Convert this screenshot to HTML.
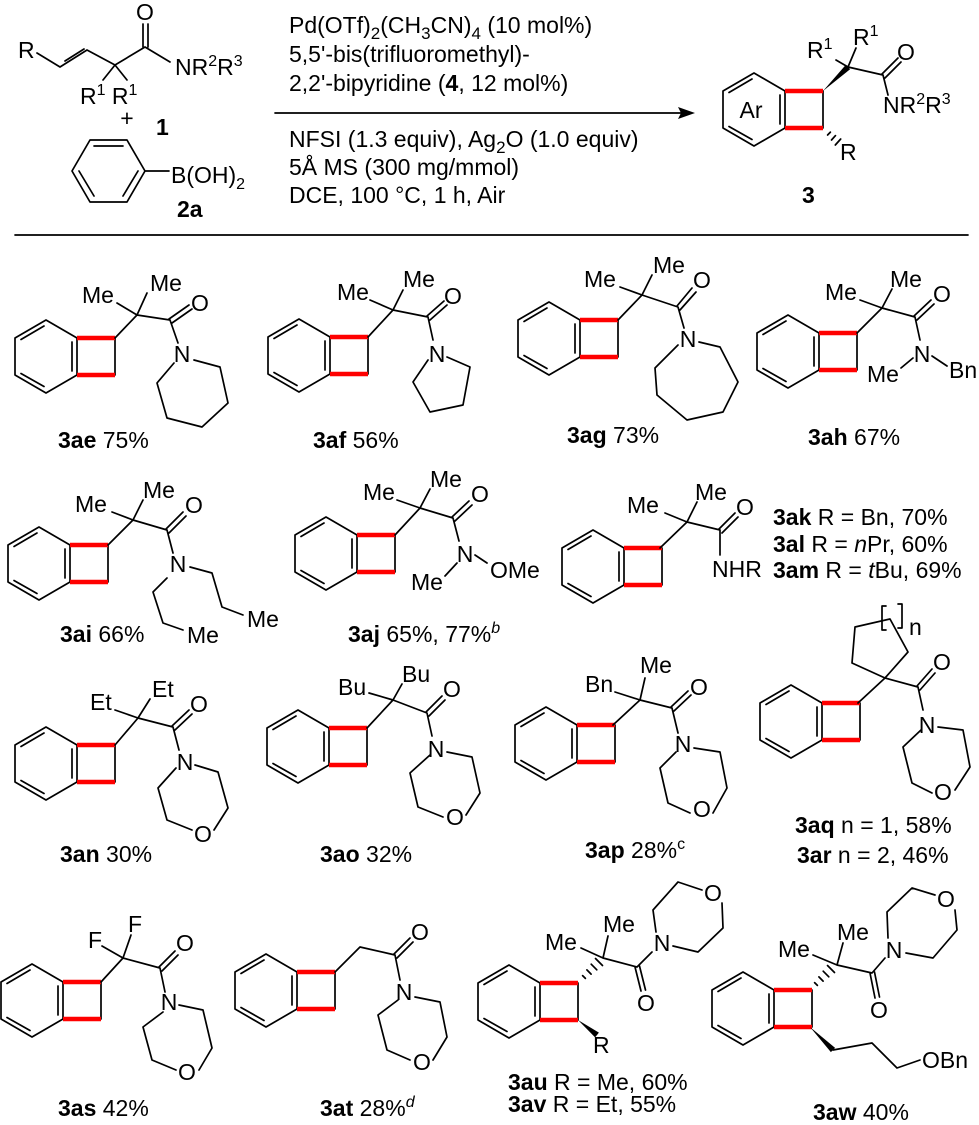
<!DOCTYPE html>
<html><head><meta charset="utf-8"><style>
html,body{margin:0;padding:0;background:#fff;}
svg{display:block;}
text{font-family:"Liberation Sans",Arial,sans-serif;font-size:23px;fill:#000;}
.m{text-anchor:middle;}
.b{font-weight:bold;}
.k{fill:none;stroke:#000;stroke-width:1.7;stroke-linejoin:round;stroke-linecap:round;}
.r{fill:none;stroke:#f00;stroke-width:4.5;}
</style></head><body>
<svg width="979" height="1125" viewBox="0 0 979 1125" xmlns="http://www.w3.org/2000/svg">
<defs>
<g id="bcb">
<path class="k" d="M0 0 L31 -18 L62 0 L62 37 L31 55 L0 37 Z M57 4 L57 33 M6 1.5 L29 -12 M6 35.5 L29 48.5 M100 0 L100 37"/>
<path class="r" d="M62 0 L100 0 M62 37 L100 37"/>
</g>
</defs>

<!-- Header: compound 1 -->
<text x="18" y="58">R</text>
<path class="k" d="M37 53 L60 67 L87 50 L115 65 L145 47 L170 62 M65 61 L84 49 M115 65 L103 80 M115 65 L127 80 M143 47 L143 24 M148 47 L148 24"/>
<text class="m" x="145" y="20">O</text>
<text x="175" y="75">NR<tspan font-size="16" dy="-9">2</tspan><tspan dy="9">R</tspan><tspan font-size="16" dy="-9">3</tspan></text>
<text x="80" y="104">R<tspan font-size="16" dy="-9">1</tspan><tspan dy="9"> R</tspan><tspan font-size="16" dy="-9">1</tspan></text>
<text class="m" x="127" y="126" font-size="20">+</text>
<text class="b" x="156" y="135">1</text>
<path class="k" d="M90 140 L127 140 L145 171 L127 202 L90 202 L72 171 Z M94 146 L123 146 M138 171 L123 196 M79 171 L94 196 M145 171 L169 171"/>
<text x="171" y="183">B(OH)<tspan font-size="16" dy="6">2</tspan></text>
<text class="b" x="177" y="217">2a</text>

<!-- Reagents -->
<g font-size="24">
<text x="289" y="33" font-size="24">Pd(OTf)<tspan font-size="17" dy="6">2</tspan><tspan dy="-6">(CH</tspan><tspan font-size="17" dy="6">3</tspan><tspan dy="-6">CN)</tspan><tspan font-size="17" dy="6">4</tspan><tspan dy="-6"> (10 mol%)</tspan></text>
<text x="289" y="62" font-size="24">5,5'-bis(trifluoromethyl)-</text>
<text x="289" y="91" font-size="24">2,2'-bipyridine (<tspan font-weight="bold">4</tspan>, 12 mol%)</text>
<text x="289" y="147" font-size="24">NFSI (1.3 equiv), Ag<tspan font-size="17" dy="6">2</tspan><tspan dy="-6">O (1.0 equiv)</tspan></text>
<text x="289" y="175" font-size="24">5Å MS (300 mg/mmol)</text>
<text x="289" y="203" font-size="24">DCE, 100 °C, 1 h, Air</text>
</g>
<path class="k" d="M275 113 L682 113"/>
<path d="M695 113 L678 107 L681 113 L678 119 Z" fill="#000"/>
<path class="k" d="M15 235 L968 235"/>

<!-- Product 3 -->
<use href="#bcb" x="723" y="91"/>
<text class="m" x="751" y="118">Ar</text>
<polygon points="823,91 845.9,64.8 850.1,69.2" fill="#000"/>
<path class="k" d="M848 67 L836 60 M848 67 L856 48 M848 67 L883 75 L888 95 M882 74 L898 58 M885 78 L901 62"/>
<path class="k" d="M827.6 135 L830.4 132.1 M831.5 140 L835.5 135.6 M835.3 145 L840.7 139"/>
<text x="807" y="58">R<tspan font-size="16" dy="-9">1</tspan></text>
<text x="853" y="45">R<tspan font-size="16" dy="-9">1</tspan></text>
<text class="m" x="906" y="60">O</text>
<text x="883" y="113">NR<tspan font-size="16" dy="-9">2</tspan><tspan dy="9">R</tspan><tspan font-size="16" dy="-9">3</tspan></text>
<text x="840" y="160">R</text>
<text class="b" x="802" y="203">3</text>

<!-- 3ae -->
<use href="#bcb" x="15" y="338"/>
<path class="k" d="M115 338 L137 315 L117 303 M137 315 L147 293 M137 315 L170 320 L178 343 M169 319 L189 305 M172 323 L192 309 M174 363 L157 383 L167 418 L202 427 L228 403 L220 367 L194 360"/>
<text x="82" y="303">Me</text><text x="150" y="291">Me</text>
<text class="m" x="200" y="311">O</text><text class="m" x="182" y="362">N</text>
<text x="58" y="448"><tspan class="b">3ae</tspan> 75%</text>

<!-- 3af -->
<use href="#bcb" x="268" y="337"/>
<path class="k" d="M368 337 L393 310 L370 300 M393 310 L403 290 M393 310 L428 317 L433 340 M427 316 L444 301 M430 320 L447 305 M428 360 L413 382 L430 412 L463 405 L470 367 L447 357"/>
<text x="337" y="300">Me</text><text x="403" y="287">Me</text>
<text class="m" x="453" y="304">O</text><text class="m" x="437" y="362">N</text>
<text x="313" y="448"><tspan class="b">3af</tspan> 56%</text>

<!-- 3ag -->
<use href="#bcb" x="518" y="320"/>
<path class="k" d="M618 320 L642 295 L620 287 M642 295 L652 275 M642 295 L678 307 L684 328 M677 306 L692 288 M680 310 L696 292 M678 345 L655 368 L657 395 L687 420 L723 412 L738 382 L720 347 L699 342"/>
<text x="584" y="287">Me</text><text x="653" y="273">Me</text>
<text class="m" x="702" y="288">O</text><text class="m" x="688" y="347">N</text>
<text x="567" y="443"><tspan class="b">3ag</tspan> 73%</text>

<!-- 3ah -->
<use href="#bcb" x="757" y="333"/>
<path class="k" d="M857 333 L882 308 L860 300 M882 308 L892 289 M882 308 L915 317 L920 340 M914 316 L931 300 M917 320 L934 304 M913 358 L901 368 M932 356 L947 366"/>
<text x="825" y="300">Me</text><text x="890" y="287">Me</text>
<text class="m" x="942" y="302">O</text><text class="m" x="922" y="362">N</text>
<text x="867" y="382">Me</text><text x="949" y="378">Bn</text>
<text x="808" y="445"><tspan class="b">3ah</tspan> 67%</text>

<!-- 3ai -->
<use href="#bcb" x="8" y="545"/>
<path class="k" d="M108 545 L133 520 L112 512 M133 520 L143 500 M133 520 L167 530 L173 553 M166 529 L183 512 M169 533 L186 516 M190 567 L212 573 L222 607 L243 615 M167 578 L153 592 L163 623 L183 630"/>
<text x="75" y="512">Me</text><text x="143" y="498">Me</text>
<text class="m" x="194" y="513">O</text><text class="m" x="178" y="572">N</text>
<text x="247" y="627">Me</text><text x="187" y="643">Me</text>
<text x="60" y="642"><tspan class="b">3ai</tspan> 66%</text>

<!-- 3aj -->
<use href="#bcb" x="295" y="535"/>
<path class="k" d="M395 535 L420 508 L397 500 M420 508 L430 489 M420 508 L453 518 L459 541 M452 517 L469 501 M455 521 L472 505 M457 563 L445 576 M475 555 L487 563"/>
<text x="363" y="500">Me</text><text x="430" y="487">Me</text>
<text class="m" x="480" y="502">O</text><text class="m" x="465" y="562">N</text>
<text x="411" y="590">Me</text><text x="490" y="578">OMe</text>
<text x="348" y="642"><tspan class="b">3aj</tspan> 65%, 77%<tspan font-size="16" font-style="italic" dy="-9">b</tspan></text>

<!-- 3ak -->
<use href="#bcb" x="562" y="548"/>
<path class="k" d="M660 548 L687 522 L665 513 M687 522 L697 502 M687 522 L720 530 L720 555 M719 529 L735 513 M722 533 L738 517"/>
<text x="627" y="513">Me</text><text x="695" y="500">Me</text>
<text class="m" x="745" y="515">O</text><text x="712" y="577">NHR</text>
<text x="773" y="525"><tspan class="b">3ak</tspan> R = Bn, 70%</text>
<text x="773" y="552"><tspan class="b">3al</tspan> R = <tspan font-style="italic">n</tspan>Pr, 60%</text>
<text x="773" y="578"><tspan class="b">3am</tspan> R = <tspan font-style="italic">t</tspan>Bu, 69%</text>

<!-- 3an -->
<use href="#bcb" x="15" y="745"/>
<path class="k" d="M115 745 L138 718 L115 710 M138 718 L150 699 M138 718 L173 727 L179 750 M172 726 L189 710 M175 730 L192 714 M176 768 L158 788 L167 820 L192 830 M214 830 L228 808 L218 772 L195 765"/>
<text x="90" y="710">Et</text><text x="152" y="697">Et</text>
<text class="m" x="199" y="712">O</text><text class="m" x="185" y="770">N</text><text class="m" x="203" y="842">O</text>
<text x="60" y="862"><tspan class="b">3an</tspan> 30%</text>

<!-- 3ao -->
<use href="#bcb" x="267" y="728"/>
<path class="k" d="M367 728 L393 700 L369 693 M393 700 L402 684 M393 700 L427 713 L432 736 M426 712 L442 696 M429 716 L445 700 M430 755 L410 773 L418 807 L443 817 M466 815 L480 793 L472 757 L447 752"/>
<text x="338" y="695">Bu</text><text x="402" y="682">Bu</text>
<text class="m" x="452" y="697">O</text><text class="m" x="436" y="757">N</text><text class="m" x="455" y="825">O</text>
<text x="320" y="862"><tspan class="b">3ao</tspan> 32%</text>

<!-- 3ap -->
<use href="#bcb" x="515" y="725"/>
<path class="k" d="M613 725 L640 700 L615 692 M640 700 L645 678 M640 700 L672 708 L678 733 M671 707 L688 691 M674 711 L691 695 M676 752 L660 768 L668 803 L690 813 M713 813 L727 788 L720 752 L694 748"/>
<text x="585" y="692">Bn</text><text x="640" y="673">Me</text>
<text class="m" x="699" y="695">O</text><text class="m" x="683" y="752">N</text><text class="m" x="702" y="817">O</text>
<text x="585" y="858"><tspan class="b">3ap</tspan> 28%<tspan font-size="16" dy="-9">c</tspan></text>

<!-- 3aq -->
<use href="#bcb" x="760" y="703"/>
<path class="k" d="M858 703 L885 678 L852 663 L855 627 L890 619 L908 652 L885 678 L918 687 L923 710 M917 686 L932 669 M920 690 L935 673 M921 730 L903 747 L912 783 L932 793 M955 790 L970 767 L963 730 L938 727"/>
<path class="k" d="M886 606 L882 606 L882 630 L886 630 M898 604 L902 604 L902 628 L898 628"/>
<text x="909" y="635" font-size="20">n</text>
<text class="m" x="942" y="670">O</text><text class="m" x="927" y="733">N</text><text class="m" x="943" y="800">O</text>
<text x="795" y="833"><tspan class="b">3aq</tspan> n = 1, 58%</text>
<text x="797" y="863"><tspan class="b">3ar</tspan> n = 2, 46%</text>

<!-- 3as -->
<use href="#bcb" x="1" y="982"/>
<path class="k" d="M101 982 L123 958 L102 946 M123 958 L131 935 M123 958 L160 968 L165 992 M159 967 L175 951 M162 971 L178 955 M163 1012 L143 1027 L152 1060 L176 1070 M199 1070 L212 1048 L203 1010 L179 1005"/>
<text x="88" y="948">F</text><text x="128" y="932">F</text>
<text class="m" x="185" y="951">O</text><text class="m" x="169" y="1010">N</text><text class="m" x="187" y="1080">O</text>
<text x="58" y="1116"><tspan class="b">3as</tspan> 42%</text>

<!-- 3at -->
<use href="#bcb" x="235" y="972"/>
<path class="k" d="M335 972 L360 947 L395 955 L400 980 M394 954 L410 938 M397 958 L413 942 M398 1000 L378 1015 L387 1050 L410 1060 M433 1060 L447 1037 L440 1002 L415 997"/>
<text class="m" x="420" y="940">O</text><text class="m" x="404" y="1000">N</text><text class="m" x="422" y="1070">O</text>
<text x="320" y="1116"><tspan class="b">3at</tspan> 28%<tspan font-size="16" font-style="italic" dy="-9">d</tspan></text>

<!-- 3au -->
<use href="#bcb" x="478" y="983"/>
<g id="hash1"><path class="k" stroke-width="1.4" d="M582.6 975.6 L585.4 978.4 M586.9 969.9 L591.1 974.1 M591.2 964.2 L596.8 969.8 M595.5 958.5 L602.5 965.5"/></g>
<polygon points="578,1020 595.1,1037.4 598.9,1032.6" fill="#000"/>
<path class="k" d="M603 958 L581 948 M603 958 L608 936 M603 958 L637 967 L652 952 M635 967 L641 991 M639.5 966 L645.5 990 M656 932 L653 910 L678 882 L702 890 M722 903 L723 928 L698 952 L673 946"/>
<text x="545" y="950">Me</text><text x="603" y="932">Me</text>
<text class="m" x="646" y="1011">O</text><text class="m" x="662" y="951">N</text><text class="m" x="713" y="901">O</text>
<text x="593" y="1053">R</text>
<text x="508" y="1090"><tspan class="b">3au</tspan> R = Me, 60%</text>
<text x="508" y="1112"><tspan class="b">3av</tspan> R = Et, 55%</text>

<!-- 3aw -->
<use href="#bcb" x="712" y="990"/>
<path class="k" stroke-width="1.4" transform="translate(232,7)" d="M582.6 975.6 L585.4 978.4 M586.9 969.9 L591.1 974.1 M591.2 964.2 L596.8 969.8 M595.5 958.5 L602.5 965.5"/>
<polygon points="810,1027 830.9,1052.1 835.1,1047.9" fill="#000"/>
<path class="k" d="M837 965 L813 955 M837 965 L843 943 M837 965 L872 973 L885 958 M870 973 L875 998 M874.5 972 L879.5 997 M888 938 L887 912 L912 888 L935 895 M955 910 L957 930 L933 958 L906 953 M833 1050 L872 1043 L897 1068 L920 1060"/>
<text x="778" y="957">Me</text><text x="837" y="940">Me</text>
<text class="m" x="879" y="1018">O</text><text class="m" x="894" y="958">N</text><text class="m" x="946" y="907">O</text>
<text x="922" y="1068">OBn</text>
<text x="813" y="1120"><tspan class="b">3aw</tspan> 40%</text>
</svg>
</body></html>
